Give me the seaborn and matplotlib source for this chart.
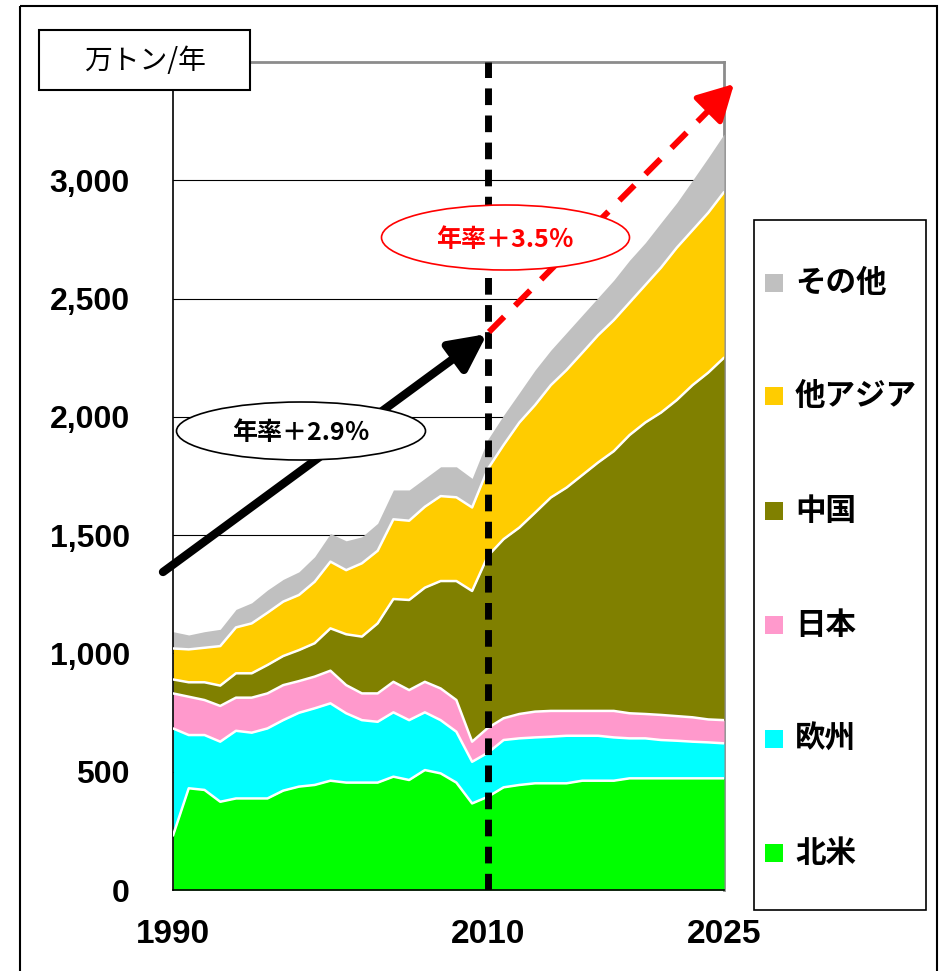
import numpy as np
import pandas as pd
import matplotlib
matplotlib.use("Agg")
import matplotlib.pyplot as plt
import seaborn as sns
from matplotlib.patches import Rectangle, Ellipse

# ---------------- data (万トン/年) ----------------
years = list(range(1990, 2026))
north_america = [230, 430, 423, 373, 387, 387, 387, 420, 437, 444,
                 462, 454, 454, 454, 479, 465, 507, 493, 454, 366,
                 394, 434, 444, 451, 451, 451, 462, 462, 462, 472,
                 472, 472, 472, 472, 472, 472]
europe = [453, 225, 232, 254, 286, 278, 296, 298, 312, 324,
          327, 293, 264, 257, 272, 253, 244, 225, 215, 176,
          186, 200, 197, 194, 197, 201, 190, 190, 183, 169,
          169, 162, 159, 155, 152, 148]
japan = [148, 162, 148, 151, 140, 148, 148, 148, 134, 134,
         138, 119, 113, 120, 129, 127, 129, 134, 134, 85,
         105, 92, 103, 109, 109, 105, 105, 105, 112, 106,
         103, 106, 104, 103, 97, 98]
china = [59, 61, 75, 86, 103, 103, 120, 123, 131, 141,
         179, 215, 240, 296, 350, 381, 398, 454, 503, 637,
         727, 757, 788, 841, 902, 944, 997, 1050, 1098, 1176,
         1232, 1278, 1336, 1404, 1466, 1532]
other_asia = [131, 139, 146, 167, 194, 211, 221, 230, 233, 260,
              282, 271, 310, 307, 337, 335, 342, 359, 354, 353,
              368, 398, 444, 455, 475, 497, 517, 538, 554, 560,
              581, 613, 644, 655, 676, 700]
others = [71, 61, 68, 71, 76, 87, 96, 94, 98, 106,
          119, 124, 112, 116, 124, 130, 120, 124, 129, 123,
          125, 126, 126, 148, 148, 158, 159, 159, 169, 179,
          179, 190, 190, 211, 233, 245]

series_labels = ["北米", "欧州", "日本", "中国", "他アジア", "その他"]
series_colors = ["#00FF00", "#00FFFF", "#FF99CC", "#808000", "#FFCC00", "#C0C0C0"]
xtick_years = list(range(1990, 2026, 5))
xtick_shown = [1990, 2010, 2025]
yticks = list(range(0, 3001, 500))
unit_label = "万トン/年"
rate_hist = "年率＋2.9％"
rate_proj = "年率＋3.5％"

df = pd.DataFrame({"year": years, "北米": north_america, "欧州": europe,
                   "日本": japan, "中国": china, "他アジア": other_asia,
                   "その他": others})

# ---------------- style ----------------
sns.set_theme(style="white")
plt.rcParams['font.family'] = ['Liberation Sans', 'Noto Sans CJK JP', 'DejaVu Sans']
CJK = ['Noto Sans CJK JP', 'DejaVu Sans']

W, H = 942, 971
fig = plt.figure(figsize=(W / 100, H / 100), dpi=100)
fig.patch.set_facecolor("white")

def fx(px):
    return px / W

def fy(py):
    return 1 - py / H

ax = fig.add_axes([fx(173), fy(890), fx(724) - fx(173), fy(62) - fy(890)])
ax.set_facecolor("white")

# grid below areas
ax.set_axisbelow(True)
ax.yaxis.grid(True, color="black", lw=0.8)
ax.xaxis.grid(False)

ax.stackplot(df["year"], *[df[c] for c in series_labels],
             colors=series_colors, linewidth=0, zorder=2)

# white boundaries between layers
cum = np.zeros(len(years))
for c in series_labels[:-1]:
    cum = cum + df[c].to_numpy()
    sns.lineplot(x=df["year"], y=cum, color="white", lw=1.8, ax=ax,
                 zorder=3, legend=False)

ax.set_xlim(1990, 2025)
ax.set_ylim(0, 3500)
ax.set_xlabel("")
ax.set_ylabel("")
ax.set_xticks(xtick_years)
ax.set_xticklabels([str(y) if y in xtick_shown else "" for y in xtick_years],
                   fontsize=24, fontweight="bold")
ax.set_yticks(yticks)
ax.set_yticklabels([f"{v:,}" for v in yticks], fontsize=23, fontweight="bold")
ax.tick_params(axis="x", direction="in", length=9, width=1, color="black",
               pad=21, labelcolor="black")
ax.tick_params(axis="y", direction="in", length=9, width=1, color="black",
               pad=31, labelcolor="black")
for s in ["left", "bottom"]:
    ax.spines[s].set_color("black")
    ax.spines[s].set_linewidth(1.2)
for s in ["top", "right"]:
    ax.spines[s].set_color("#8c8c8c")
    ax.spines[s].set_linewidth(2)
    ax.spines[s].set_zorder(1)

# vertical dashed at 2010
ax.axvline(2010, color="black", lw=5, ls=(0, (2.4, 1.5)), zorder=6,
           dash_capstyle="butt")

# ---------------- overlay in pixel coordinates ----------------
oax = fig.add_axes([0, 0, 1, 1])
oax.set_xlim(0, W)
oax.set_ylim(H, 0)
oax.axis("off")
oax.patch.set_alpha(0)
oax.set_zorder(5)

# outer frame
oax.add_patch(Rectangle((20, 6), 917, 990, fill=False, ec="black", lw=1.5,
                        clip_on=False))

# unit box
oax.add_patch(Rectangle((39, 30), 211, 60, fc="white", ec="black", lw=1.5,
                        zorder=10))
oax.text(144.5, 61, unit_label, ha="center", va="center", fontsize=20,
         family=CJK, zorder=11, color="black")

# black growth arrow
oax.annotate("", xy=(487, 334), xytext=(163, 572),
             arrowprops=dict(arrowstyle="-|>,head_length=1.1,head_width=0.55",
                             lw=6, color="black", mutation_scale=20,
                             shrinkA=0, shrinkB=0), zorder=7)

# red dashed projection arrow
oax.plot([489, 718], [332, 101], color="red", lw=4.3,
         ls=(0, (3.6, 2.6)), dash_capstyle="butt", zorder=7)
oax.annotate("", xy=(734, 84), xytext=(712, 106),
             arrowprops=dict(arrowstyle="-|>,head_length=1.1,head_width=0.6",
                             lw=4, color="red", mutation_scale=20,
                             shrinkA=0, shrinkB=0), zorder=7)

# ellipses with rate labels
oax.add_patch(Ellipse((301, 431), 249, 58, fc="white", ec="black", lw=1.2,
                      zorder=9))
oax.text(301, 433, rate_hist, ha="center", va="center", fontsize=18,
         fontweight="bold", family=CJK, color="black", zorder=10)
oax.add_patch(Ellipse((505.5, 237.5), 248, 65, fc="white", ec="red", lw=1.2,
                      zorder=9))
oax.text(505, 240, rate_proj, ha="center", va="center", fontsize=18,
         fontweight="bold", family=CJK, color="red", zorder=10)

# legend
oax.add_patch(Rectangle((754, 220), 172, 690, fc="white", ec="black", lw=1.2,
                        zorder=9))
leg_y = [853, 739, 625, 511, 396, 283]
for lab, col, yy in zip(series_labels, series_colors, leg_y):
    oax.add_patch(Rectangle((765, yy - 9), 18, 18, fc=col, ec="none",
                            zorder=10))
    oax.text(795, yy, lab, ha="left", va="center", fontsize=22,
             fontweight="bold", family=CJK, color="black", zorder=10)

fig.savefig("out.png", dpi=100, facecolor="white")
